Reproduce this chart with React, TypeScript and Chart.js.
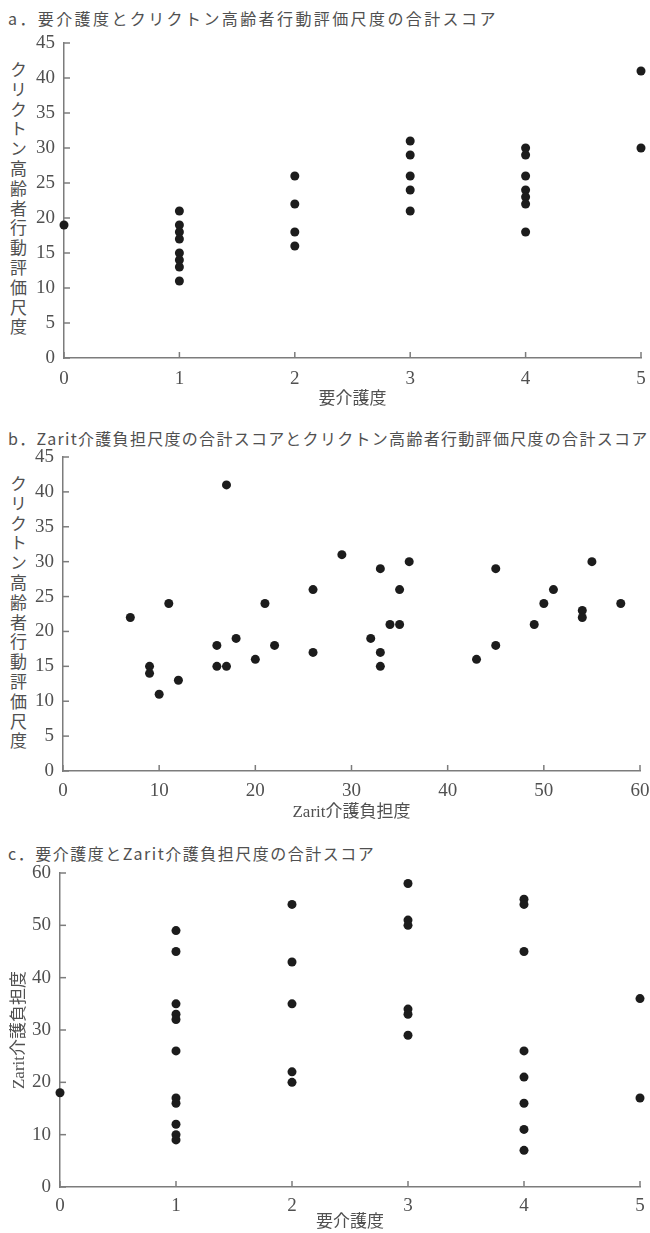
import React, { useEffect, useRef } from 'react';
import { Chart, registerables } from 'chart.js';

Chart.register(...registerables);

// ---------- data ----------
const careLevelTicks = [0, 1, 2, 3, 4, 5];
const zaritXTicks = [0, 10, 20, 30, 40, 50, 60];
const crichtonTicks = [0, 5, 10, 15, 20, 25, 30, 35, 40, 45];
const zaritYTicks = [0, 10, 20, 30, 40, 50, 60];

const titleA = 'a．要介護度とクリクトン高齢者行動評価尺度の合計スコア';
const titleB = 'b．Zarit介護負担尺度の合計スコアとクリクトン高齢者行動評価尺度の合計スコア';
const titleC = 'c．要介護度とZarit介護負担尺度の合計スコア';
const careLevelLabel = '要介護度';
const zaritLabel = 'Zarit介護負担度';
const crichtonLabel = 'クリクトン高齢者行動評価尺度';

// a: care level vs Crichton
const careLevelA = [0, 1, 1, 1, 1, 1, 1, 1, 1, 2, 2, 2, 2, 3, 3, 3, 3, 3, 4, 4, 4, 4, 4, 4, 4, 5, 5];
const crichtonA = [19, 21, 19, 18, 17, 15, 14, 13, 11, 26, 22, 18, 16, 31, 29, 26, 24, 21, 30, 29, 26, 24, 23, 22, 18, 41, 30];

// b: Zarit vs Crichton
const zaritB = [7, 9, 9, 10, 11, 12, 16, 16, 17, 17, 18, 20, 21, 22, 26, 26, 29, 32, 33, 33, 33, 34, 35, 35, 36, 43, 45, 45, 49, 50, 51, 54, 54, 55, 58];
const crichtonB = [22, 15, 14, 11, 24, 13, 18, 15, 15, 41, 19, 16, 24, 18, 26, 17, 31, 19, 29, 17, 15, 21, 26, 21, 30, 16, 29, 18, 21, 24, 26, 23, 22, 30, 24];

// c: care level vs Zarit
const careLevelC = [0, 1, 1, 1, 1, 1, 1, 1, 1, 1, 1, 1, 2, 2, 2, 2, 2, 3, 3, 3, 3, 3, 3, 4, 4, 4, 4, 4, 4, 4, 4, 5, 5];
const zaritC = [18, 49, 45, 35, 33, 32, 26, 17, 16, 12, 10, 9, 54, 43, 35, 22, 20, 58, 51, 50, 34, 33, 29, 55, 54, 45, 26, 21, 16, 11, 7, 36, 17];

// ---------- styles ----------
const AXIS = '#7c7c7c';
const TEXT = '#505050';
const DOT = '#1c1c1c';
const SERIF = '"Liberation Serif", "DejaVu Serif", serif';
const MIXED = '"Liberation Serif", "Noto Sans CJK JP", serif';
const GOTHIC = '"Noto Sans CJK JP", "Noto Sans", sans-serif';

const innerTicks = {
  id: 'innerTicks',
  beforeDatasetsDraw(chart: any) {
    const { ctx, chartArea: a, scales } = chart;
    ctx.save();
    ctx.strokeStyle = AXIS;
    ctx.lineWidth = 1.5;
    scales.x.ticks.forEach((t: any) => {
      const p = scales.x.getPixelForValue(t.value);
      ctx.beginPath();
      ctx.moveTo(p, a.bottom);
      ctx.lineTo(p, a.bottom - 6);
      ctx.stroke();
    });
    scales.y.ticks.forEach((t: any) => {
      const p = scales.y.getPixelForValue(t.value);
      ctx.beginPath();
      ctx.moveTo(a.left, p);
      ctx.lineTo(a.left + 6, p);
      ctx.stroke();
    });
    ctx.restore();
  },
};

type PanelProps = {
  top: number;
  height: number;
  padTop: number;
  padRight: number;
  axisLeft: number;
  xAxisH: number;
  xs: number[];
  ys: number[];
  xMax: number;
  yMax: number;
  xTicks: number[];
  yTicks: number[];
  xTitle: string;
  xTitlePadB: number;
  xTickPad: number;
  yTitle?: string;
};

function Panel(p: PanelProps) {
  const ref = useRef<HTMLCanvasElement | null>(null);
  useEffect(() => {
    if (!ref.current) return;
    const data = p.xs.map((x, i) => ({ x, y: p.ys[i] }));
    const chart = new Chart(ref.current, {
      type: 'scatter',
      data: {
        datasets: [
          {
            data,
            pointRadius: 4.5,
            pointHoverRadius: 4.5,
            backgroundColor: DOT,
            borderWidth: 0,
            clip: false as any,
          } as any,
        ],
      },
      plugins: [innerTicks],
      options: {
        responsive: false,
        animation: false,
        events: [],
        layout: { padding: { top: p.padTop, right: p.padRight, left: 0, bottom: 0 } },
        plugins: { legend: { display: false }, tooltip: { enabled: false }, title: { display: false } },
        scales: {
          x: {
            type: 'linear',
            min: 0,
            max: p.xMax,
            afterBuildTicks: (s: any) => {
              s.ticks = p.xTicks.map((v) => ({ value: v }));
            },
            grid: { display: false, drawTicks: false },
            border: { display: true, color: AXIS, width: 1.5 },
            ticks: {
              color: TEXT,
              font: { family: SERIF, size: 19 },
              padding: p.xTickPad,
              maxRotation: 0,
              autoSkip: false,
            },
            title: {
              display: true,
              text: p.xTitle,
              color: TEXT,
              font: { family: MIXED, size: 17 },
              padding: { top: 0, bottom: p.xTitlePadB },
            },
            afterFit: (s: any) => {
              s.height = p.xAxisH;
              s.paddingLeft = 0;
              s.paddingRight = 0;
            },
          },
          y: {
            type: 'linear',
            min: 0,
            max: p.yMax,
            afterBuildTicks: (s: any) => {
              s.ticks = p.yTicks.map((v) => ({ value: v }));
            },
            grid: { display: false, drawTicks: false },
            border: { display: true, color: AXIS, width: 1.5 },
            ticks: {
              color: TEXT,
              font: { family: SERIF, size: 19 },
              padding: 9,
              autoSkip: false,
            },
            title: {
              display: !!p.yTitle,
              text: p.yTitle || '',
              color: TEXT,
              font: { family: MIXED, size: 17 },
              padding: { top: 9, bottom: 0 },
            },
            afterFit: (s: any) => {
              s.width = p.axisLeft;
              s.paddingTop = 0;
              s.paddingBottom = 0;
            },
          },
        },
      } as any,
    });
    return () => chart.destroy();
  }, []);
  return (
    <canvas
      ref={ref}
      width={650}
      height={p.height}
      style={{ position: 'absolute', left: 0, top: p.top, width: 650, height: p.height }}
    />
  );
}

const titleStyle = (top: number, ls: number): React.CSSProperties => ({
  position: 'absolute',
  left: 8,
  top,
  fontFamily: GOTHIC,
  fontSize: 16,
  lineHeight: '20px',
  letterSpacing: `${ls}px`,
  color: TEXT,
  whiteSpace: 'nowrap',
});

const vTitleStyle = (top: number): React.CSSProperties => ({
  position: 'absolute',
  left: 9,
  top,
  writingMode: 'vertical-rl',
  textOrientation: 'upright',
  fontFamily: GOTHIC,
  fontSize: 17,
  lineHeight: '18px',
  letterSpacing: '2.8px',
  color: TEXT,
  whiteSpace: 'nowrap',
});

export default function App() {
  return (
    <div style={{ position: 'absolute', left: 0, top: 0, width: 650, height: 1233, background: '#fff', overflow: 'hidden' }}>
      <div style={titleStyle(8, 2.4)}>{titleA}</div>
      <div style={vTitleStyle(61)}>{crichtonLabel}</div>
      <Panel
        top={30}
        height={385}
        padTop={13}
        padRight={9}
        axisLeft={64}
        xAxisH={57}
        xs={careLevelA}
        ys={crichtonA}
        xMax={5}
        yMax={45}
        xTicks={careLevelTicks}
        yTicks={crichtonTicks}
        xTitle={careLevelLabel}
        xTitlePadB={5}
        xTickPad={10}
      />

      <div style={titleStyle(428, 1.3)}>{titleB}</div>
      <div style={vTitleStyle(475)}>{crichtonLabel}</div>
      <Panel
        top={445}
        height={390}
        padTop={12}
        padRight={10}
        axisLeft={63}
        xAxisH={64}
        xs={zaritB}
        ys={crichtonB}
        xMax={60}
        yMax={45}
        xTicks={zaritXTicks}
        yTicks={crichtonTicks}
        xTitle={zaritLabel}
        xTitlePadB={12}
        xTickPad={9}
      />

      <div style={titleStyle(843, 1.5)}>{titleC}</div>
      <Panel
        top={860}
        height={373}
        padTop={13}
        padRight={10}
        axisLeft={60}
        xAxisH={46}
        xs={careLevelC}
        ys={zaritC}
        xMax={5}
        yMax={60}
        xTicks={careLevelTicks}
        yTicks={zaritYTicks}
        xTitle={careLevelLabel}
        xTitlePadB={0}
        xTickPad={8}
        yTitle={zaritLabel}
      />
    </div>
  );
}
